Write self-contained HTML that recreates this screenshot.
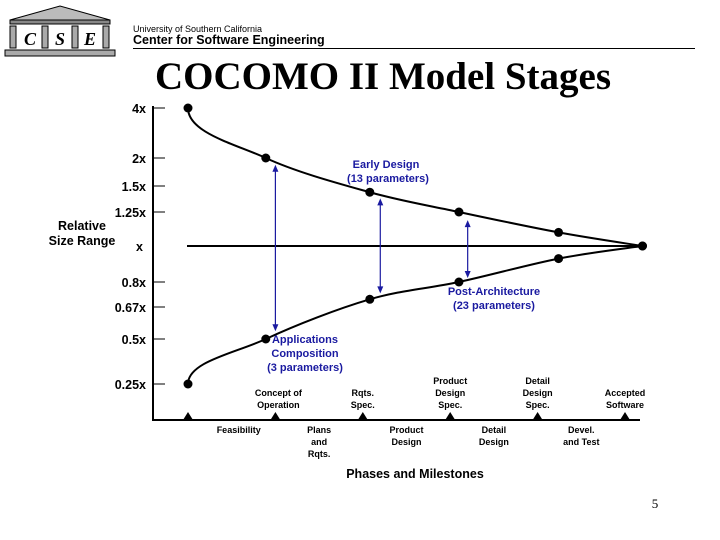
<!DOCTYPE html>
<html><head><meta charset="utf-8"><style>
body{margin:0;background:#fff}
svg{display:block;font-family:"Liberation Sans",Arial,sans-serif}
</style></head><body>
<svg id="c" width="720" height="540" viewBox="0 0 720 540">
<g>
<polygon points="10,20 60,6 110,20" fill="#bbb" stroke="#000"/>
<rect x="10" y="20" width="100" height="4" fill="#888" stroke="#000"/>
<rect x="10" y="26" width="6" height="22" fill="#aaa" stroke="#000"/>
<rect x="42" y="26" width="6" height="22" fill="#aaa" stroke="#000"/>
<rect x="72" y="26" width="6" height="22" fill="#aaa" stroke="#000"/>
<rect x="103" y="26" width="6" height="22" fill="#aaa" stroke="#000"/>
<text x="30" y="45" font-family="Liberation Serif" font-style="italic" font-weight="bold" font-size="18" text-anchor="middle">C</text>
<text x="60" y="45" font-family="Liberation Serif" font-style="italic" font-weight="bold" font-size="18" text-anchor="middle">S</text>
<text x="90" y="45" font-family="Liberation Serif" font-style="italic" font-weight="bold" font-size="18" text-anchor="middle">E</text>
<rect x="5" y="50" width="110" height="6" fill="#aaa" stroke="#000"/>
</g>
<text x="133" y="32" font-size="9">University of Southern California</text>
<text x="133" y="44" font-size="12.5" font-weight="bold">Center for Software  Engineering</text>
<line x1="133" y1="48.5" x2="695" y2="48.5" stroke="#000" stroke-width="1"/>
<text x="383" y="89" font-family="Liberation Serif" font-weight="bold" font-size="39" text-anchor="middle">COCOMO II Model Stages</text>
<text x="655" y="508" font-family="Liberation Serif" font-size="13" text-anchor="middle">5</text>
<g id="plot"></g>
</svg>
<script>
const yTickValues=[0.25,0.5,0.67,0.8,1,1.25,1.5,2,4];
const yTickLabels=["0.25x","0.5x","0.67x","0.8x","x","1.25x","1.5x","2x","4x"];
const upperX=[0,0.89,2.08,3.1,4.24,5.2];
const upperY=[4,2,1.44,1.25,1.1,1];
const lowerX=[0,0.89,2.08,3.1,4.24,5.2];
const lowerY=[0.25,0.5,0.71,0.8,0.93,1];
const milestones=[["Concept of","Operation"],["Rqts.","Spec."],["Product","Design","Spec."],["Detail","Design","Spec."],["Accepted","Software"]];
const phases=[["Feasibility"],["Plans","and","Rqts."],["Product","Design"],["Detail","Design"],["Devel.","and Test"]];
const arrowX=[1,2.2,3.2];
const arrowLo=[0.52,0.72,0.8];
const arrowHi=[1.95,1.42,1.22];
const yRange=[384,339,307,282,246,212,186,158,108];
const NS="http://www.w3.org/2000/svg";
const g=document.getElementById('plot');
function X(u){return 188+u*87.4;}
function Y(v){for(let i=0;i<yTickValues.length-1;i++){const a=yTickValues[i],b=yTickValues[i+1];if(v<=b||i==yTickValues.length-2){return yRange[i]+(v-a)/(b-a)*(yRange[i+1]-yRange[i]);}}}
function mk(t,a,p){const e=document.createElementNS(NS,t);for(const k in a)e.setAttribute(k,a[k]);(p||g).appendChild(e);return e;}
function txt(x,y,s,size,anchor,fill){const e=mk('text',{x:x,y:y,'font-size':size,'font-weight':'bold','text-anchor':anchor,fill:fill||'#000'});e.textContent=s;return e;}
let e=mk('line',{x1:153,y1:106,x2:153,y2:421,stroke:'#000','stroke-width':2});


e=mk('line',{x1:152,y1:420,x2:640,y2:420,stroke:'#000','stroke-width':2});


yTickValues.forEach((v,i)=>{const y=Y(v);
 if(v!==1){const t=mk('line',{x1:153,y1:y,x2:165,y2:y,stroke:'#000'});
 
 }
 const l=txt(v===1?143:146,y+5,yTickLabels[i],12.5,'end');
 
 });
e=txt(82,230,'Relative',12.5,'middle');


e=txt(82,245,'Size Range',12.5,'middle');


e=mk('line',{x1:X(0)-1,y1:Y(1),x2:X(upperX[5]),y2:Y(1),stroke:'#000','stroke-width':2});


function curve(xs,ys,name){const P=xs.map((u,i)=>[X(u),Y(ys[i])]);let d='M'+P[0];
 for(let i=0;i<P.length-1;i++){const p0=P[Math.max(0,i-1)],p1=P[i],p2=P[i+1],p3=P[Math.min(P.length-1,i+2)];
 let c1=[p1[0]+(p2[0]-p0[0])/6,p1[1]+(p2[1]-p0[1])/6];if(i==0)c1=[p1[0],p1[1]+(p2[1]-p1[1])*0.5];
 const c2=[p2[0]-(p3[0]-p1[0])/6,p2[1]-(p3[1]-p1[1])/6];d+=' C'+c1+' '+c2+' '+p2;}
 const c=mk('path',{d:d,fill:'none',stroke:'#000','stroke-width':2});
 
 
 P.forEach(p=>{const dot=mk('circle',{cx:p[0],cy:p[1],r:4.5,fill:'#000'});
 
 });}
curve(upperX,upperY,'upper-curve');curve(lowerX,lowerY,'lower-curve');
arrowX.forEach((u,i)=>{const x=X(u),y1=Y(arrowHi[i])+4,y2=Y(arrowLo[i])-4;
 const a=mk('g',{});
 
 
 mk('line',{x1:x,y1:y1+5,x2:x,y2:y2-5,stroke:'#1a1aa0','stroke-width':1.2},a);
 mk('polygon',{points:`${x},${y1} ${x-3},${y1+7} ${x+3},${y1+7}`,fill:'#1a1aa0'},a);
 mk('polygon',{points:`${x},${y2} ${x-3},${y2-7} ${x+3},${y2-7}`,fill:'#1a1aa0'},a);});
const B='#1a1aa0';
[[386,168,'Early Design'],[388,182,'(13 parameters)'],[494,295,'Post-Architecture'],[494,309,'(23 parameters)'],[305,343,'Applications'],[305,357,'Composition'],[305,371,'(3 parameters)']].forEach(t=>{
 const l=txt(t[0],t[1],t[2],11,'middle',B);
 
 });
for(let i=0;i<=5;i++){const x=X(i);const m=mk('polygon',{points:`${x},${412} ${x-5},${420} ${x+5},${420}`,fill:'#000'});
 
 }
milestones.forEach((m,i)=>{const x=X(i+1);const n=m.length;m.forEach((s,j)=>{
 const l=txt(x+(i==0?3:0),409-(n-1-j)*12-1,s,9,'middle');
 
 });});
phases.forEach((p,i)=>{const x=X(i+0.5)+(i==0?7:0);p.forEach((s,j)=>{
 const l=txt(x,433+j*12,s,9,'middle');
 
 });});
e=txt(415,478,'Phases and Milestones',12.5,'middle');


</script>
</body></html>
